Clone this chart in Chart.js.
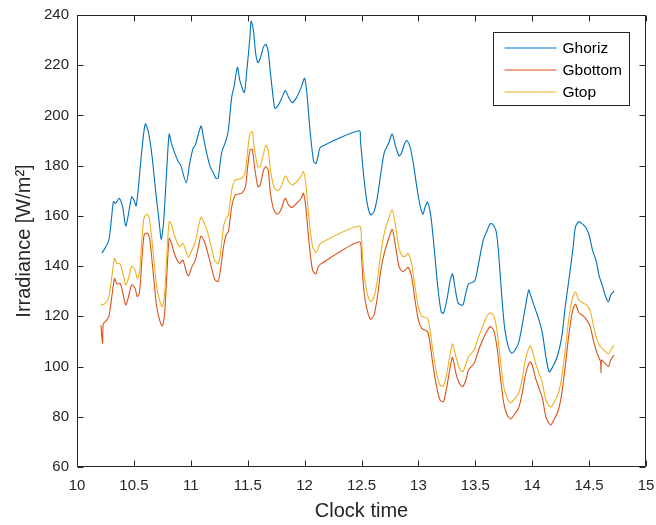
<!DOCTYPE html>
<html>
<head>
<meta charset="utf-8">
<script src="https://cdn.jsdelivr.net/npm/chart.js@4.4.0/dist/chart.umd.min.js"></script>
<style>
  body { margin: 0; background: #fff; }
  canvas { display: block; }
</style>
</head>
<body>
<canvas id="irr-chart" width="656" height="525"></canvas>
<script>
// Irradiance data (clock time in hours, W/m2)
const tHoriz = [10.22,10.28,10.32,10.34,10.37,10.40,10.43,10.48,10.50,10.52,10.54,10.57,10.60,10.63,10.66,10.69,10.72,10.74,10.76,10.79,10.81,10.83,10.86,10.89,10.91,10.96,10.99,11.02,11.04,11.09,11.11,11.14,11.17,11.20,11.22,11.24,11.27,11.31,11.33,11.36,11.38,11.41,11.43,11.47,11.49,11.52,11.53,11.55,11.57,11.59,11.61,11.64,11.66,11.68,11.70,11.73,11.74,11.77,11.80,11.83,11.86,11.89,11.93,11.97,12.00,12.02,12.05,12.08,12.10,12.12,12.14,12.48,12.49,12.52,12.55,12.58,12.61,12.64,12.67,12.70,12.74,12.77,12.80,12.83,12.85,12.88,12.90,12.93,12.96,12.99,13.02,13.04,13.06,13.08,13.11,13.14,13.17,13.20,13.22,13.25,13.28,13.30,13.32,13.35,13.39,13.41,13.44,13.49,13.51,13.54,13.57,13.60,13.63,13.65,13.68,13.70,13.72,13.74,13.76,13.79,13.82,13.85,13.88,13.91,13.94,13.97,13.99,14.03,14.06,14.09,14.12,14.15,14.18,14.22,14.26,14.29,14.33,14.36,14.38,14.41,14.44,14.47,14.50,14.53,14.56,14.59,14.62,14.64,14.67,14.69,14.72];
const gHoriz = [145.1,150.4,165.7,165,167,163.7,156,167.6,166.3,164,171.6,186.2,196.6,192.9,183.6,170.3,158.4,150.7,157,179.6,192.6,188.9,184.9,181.6,180.3,173.2,180.9,186.9,188.2,195.8,191.5,184.9,179.6,177,175,175,184.9,190.2,194.2,207.5,211.5,219.2,214.1,209.1,216.8,231.4,237.6,234,224.7,221,222.7,227.4,228.3,225.4,216.8,204.8,202.8,204.2,207,209.9,207.2,205.1,207.2,211.2,214.8,208.8,192.9,181.6,180.9,184.2,187.3,193.9,190.2,175.6,165,160.4,161.7,167.6,177,185.2,189.1,192.6,187.6,183.9,184.9,188.9,190,186.9,179.6,170.3,163,160.7,163.7,165.5,159.7,146.4,131.8,121.8,121.2,126.5,134.5,136.9,131.8,125.2,124.5,127.8,132.9,133.8,136.5,143.7,150.4,153.7,156.8,156.8,154.4,147.7,135.8,123.8,114.6,107.9,105.3,106.6,109.3,115.9,123.8,130.5,127.8,122.5,118.5,113.2,103.9,97.9,99.9,103.9,111.9,123.8,137.1,147.7,155.6,157.7,156.8,155.5,152.4,146.4,142.4,135.8,131.8,128.5,125.8,128.5,130.1];

const tBottom = [10.21,10.225,10.23,10.25,10.28,10.31,10.33,10.35,10.38,10.41,10.43,10.46,10.48,10.51,10.53,10.55,10.57,10.59,10.62,10.64,10.67,10.70,10.73,10.75,10.77,10.79,10.81,10.83,10.86,10.90,10.93,10.96,10.98,11.01,11.04,11.07,11.09,11.12,11.15,11.18,11.21,11.24,11.26,11.29,11.31,11.33,11.36,11.39,11.42,11.45,11.48,11.50,11.52,11.54,11.56,11.59,11.61,11.64,11.66,11.68,11.70,11.73,11.76,11.79,11.83,11.86,11.89,11.93,11.97,11.99,12.01,12.04,12.07,12.10,12.12,12.14,12.48,12.50,12.52,12.55,12.58,12.61,12.64,12.67,12.70,12.73,12.77,12.80,12.83,12.86,12.89,12.91,12.94,12.97,13.00,13.03,13.08,13.10,13.13,13.16,13.19,13.22,13.25,13.28,13.30,13.33,13.36,13.39,13.42,13.44,13.49,13.51,13.54,13.57,13.60,13.63,13.66,13.69,13.72,13.75,13.78,13.81,13.85,13.88,13.91,13.94,13.98,14.00,14.03,14.06,14.09,14.12,14.16,14.19,14.23,14.26,14.29,14.32,14.35,14.38,14.41,14.45,14.48,14.51,14.54,14.57,14.60,14.605,14.61,14.64,14.67,14.69,14.72];
const gBottom = [116.5,109.3,117,117.9,119.9,129.2,135.1,132.9,133.1,127.8,124.5,129.2,132.5,131.2,127.8,129.8,142.4,152.4,153.1,150.4,137.1,123.8,117.9,116.2,121.2,137.1,151.1,149.1,144.4,141.1,142.4,137.8,136.1,139.8,142.4,148.4,152,149.7,145.1,139.8,134.7,133.9,138.4,148.4,152.4,153.7,163.7,168.3,168.7,169.2,171.6,179.6,186.2,186.5,179.6,171.6,172.3,178.3,179.6,178.3,169,162.3,160.7,162.2,167,164.3,163.4,165,167,169,163.7,149.1,138.4,136.9,139.8,140.8,149.7,143.7,130.5,122.5,118.8,120.5,127.8,138.4,145.1,149.7,154.6,147.7,139.8,137.8,138.7,139.5,135.8,126.5,118.5,115.2,113.9,109.9,99.9,92,86.7,86,92,99.9,103.7,97.3,93.3,92,95,98.6,101.3,103.9,107.9,111.2,113.9,115.9,114.6,107.9,96,85.4,80.7,79.1,81.3,83.4,88.7,96.6,101.9,100.6,95.3,91.3,87.4,80,76.7,78.7,82.7,89.3,100,111.9,121.2,124.9,121.4,120.1,118.5,115.9,109.9,105.3,102,97.6,102.6,101.3,100,102.6,104.6];

const tTop = [10.21,10.25,10.28,10.31,10.33,10.35,10.38,10.41,10.43,10.46,10.48,10.51,10.53,10.55,10.57,10.59,10.62,10.64,10.67,10.70,10.73,10.75,10.77,10.79,10.81,10.83,10.86,10.90,10.93,10.96,10.98,11.01,11.04,11.07,11.09,11.12,11.15,11.18,11.21,11.24,11.26,11.29,11.31,11.33,11.36,11.39,11.42,11.45,11.48,11.50,11.52,11.54,11.56,11.59,11.61,11.64,11.66,11.68,11.70,11.73,11.76,11.79,11.83,11.86,11.89,11.93,11.97,11.99,12.01,12.04,12.07,12.10,12.12,12.14,12.48,12.50,12.52,12.55,12.58,12.61,12.64,12.67,12.70,12.73,12.77,12.80,12.83,12.86,12.89,12.91,12.94,12.97,13.00,13.03,13.08,13.10,13.13,13.16,13.19,13.22,13.25,13.28,13.30,13.33,13.36,13.39,13.42,13.44,13.49,13.51,13.54,13.57,13.60,13.63,13.66,13.69,13.72,13.75,13.78,13.81,13.85,13.88,13.91,13.94,13.98,14.00,14.03,14.06,14.09,14.12,14.16,14.19,14.23,14.26,14.29,14.32,14.35,14.38,14.41,14.45,14.48,14.51,14.54,14.57,14.60,14.63,14.67,14.69,14.72];
const gTop = [124.5,125.2,127.8,137.1,143.1,141.1,140.8,135.8,132.5,136.5,140,138.4,135.1,137.8,150.4,159.4,160.7,157.7,145.1,131.8,125.8,123.8,129.2,145.1,157.7,156.4,151.7,147.7,149.1,145.7,143.5,146.4,149.7,156.3,159.4,157,153.1,147.7,142.2,141.1,145.1,156.3,159,160.4,170.3,174.3,174.6,175,177.6,186.2,192.9,193.5,186.2,179.6,179.6,184.9,188.2,186.2,178.3,171.6,170,171.3,175.9,173.6,172.3,173.6,175.9,177.6,173,158.4,147.7,145.3,147.1,149.1,156,150.4,137.1,129.2,125.8,127.8,134.5,145.1,153.1,157.7,162.3,155.7,147.1,144,144,145.1,141.1,131.8,123.8,120.1,119.2,115.2,105.3,97.3,92.7,92.3,97.3,105.3,109,103.9,99.3,98,101.3,103.9,106.6,109.3,113.2,116.5,119.8,121.4,120.5,114.5,102.6,92,87.4,85.6,87.4,89.3,94.6,102.6,108.3,106.6,101.3,97.3,93.3,86.7,83.8,85.6,89.3,96,106.6,118.5,126.5,129.8,126.5,125.2,124.5,122.2,115.9,110.6,107.9,106.6,105,106.6,108.6];

const seriesNames = ['Ghoriz', 'Gbottom', 'Gtop'];
const seriesColors = ['#0072BD', '#D95319', '#EDB120'];

const xTicks = { min: 10, max: 15, step: 0.5 };
const yTicks = { min: 60, max: 240, step: 20 };

const axisColor = '#262626';
const fontFamily = '"Liberation Sans", Arial, Helvetica, sans-serif';

function toPoints(t, g) {
  return t.map((x, i) => ({ x: x, y: g[i] }));
}

// MATLAB-like box with inward ticks on all four sides
const boxAxes = {
  id: 'boxAxes',
  afterDatasetsDraw(chart) {
    const { ctx, chartArea: a, scales } = chart;
    const L = Math.round(a.left) + 0.5, R = Math.round(a.right) - 0.5;
    const T = Math.round(a.top) + 0.5, B = Math.round(a.bottom) - 0.5;
    const len = 6;
    ctx.save();
    ctx.strokeStyle = axisColor;
    ctx.lineWidth = 1;
    ctx.beginPath();
    ctx.rect(L, T, R - L, B - T);
    scales.x.ticks.forEach(tk => {
      const px = Math.round(scales.x.getPixelForValue(tk.value)) + 0.5;
      ctx.moveTo(px, B); ctx.lineTo(px, B - len);
      ctx.moveTo(px, T); ctx.lineTo(px, T + len);
    });
    scales.y.ticks.forEach(tk => {
      const py = Math.round(scales.y.getPixelForValue(tk.value)) + 0.5;
      ctx.moveTo(L, py); ctx.lineTo(L + len, py);
      ctx.moveTo(R, py); ctx.lineTo(R - len, py);
    });
    ctx.stroke();
    ctx.restore();
  }
};

// legend box in the top right corner of the axes
const boxLegend = {
  id: 'boxLegend',
  afterDraw(chart) {
    const { ctx, chartArea: a } = chart;
    const x0 = Math.round(a.right) - 152.5, y0 = Math.round(a.top) + 17.5, w = 136, h = 73;
    ctx.save();
    ctx.fillStyle = '#fff';
    ctx.fillRect(x0, y0, w, h);
    ctx.strokeStyle = axisColor;
    ctx.lineWidth = 1;
    ctx.strokeRect(x0, y0, w, h);
    ctx.font = '15.5px ' + fontFamily;
    ctx.textBaseline = 'middle';
    chart.data.datasets.forEach((ds, i) => {
      const y = y0 + 15.5 + i * 22;
      ctx.strokeStyle = ds.borderColor;
      ctx.lineWidth = 1.2;
      ctx.beginPath();
      ctx.moveTo(x0 + 11, y);
      ctx.lineTo(x0 + 63, y);
      ctx.stroke();
      ctx.fillStyle = '#000';
      ctx.fillText(ds.label, x0 + 69, y + 1);
    });
    ctx.restore();
  }
};

const ctx_irr = document.getElementById('irr-chart').getContext('2d');

const irr_chart = new Chart(ctx_irr, {
  type: 'line',
  data: {
    datasets: [
      { label: seriesNames[0], data: toPoints(tHoriz, gHoriz), borderColor: seriesColors[0], order: 2 },
      { label: seriesNames[1], data: toPoints(tBottom, gBottom), borderColor: seriesColors[1], order: 1 },
      { label: seriesNames[2], data: toPoints(tTop, gTop), borderColor: seriesColors[2], order: 0 }
    ].map(ds => Object.assign(ds, {
      borderWidth: 1.1,
      pointRadius: 0,
      fill: false,
      tension: 0.25
    }))
  },
  options: {
    responsive: false,
    animation: false,
    layout: { padding: { top: 15, right: 10, left: 0, bottom: 0 } },
    plugins: {
      legend: { display: false },
      tooltip: { enabled: false }
    },
    scales: {
      x: {
        type: 'linear',
        min: xTicks.min,
        max: xTicks.max,
        grid: { display: false, drawTicks: false },
        border: { display: false },
        ticks: {
          stepSize: xTicks.step,
          color: axisColor,
          padding: 10,
          maxRotation: 0,
          font: { family: fontFamily, size: 15 },
          callback: v => String(Math.round(v * 10) / 10)
        },
        title: {
          display: true,
          text: 'Clock time',
          color: axisColor,
          padding: { top: 0, bottom: 2 },
          font: { family: fontFamily, size: 20 }
        },
        afterFit(scale) {
          scale.height = 58;
          scale.paddingLeft = 0;
          scale.paddingRight = 0;
        }
      },
      y: {
        type: 'linear',
        min: yTicks.min,
        max: yTicks.max,
        grid: { display: false, drawTicks: false },
        border: { display: false },
        ticks: {
          stepSize: yTicks.step,
          color: axisColor,
          padding: 8,
          font: { family: fontFamily, size: 15 }
        },
        title: {
          display: true,
          text: 'Irradiance [W/m²]',
          color: axisColor,
          padding: { top: 12, bottom: 0 },
          font: { family: fontFamily, size: 20 }
        },
        afterFit(scale) {
          scale.width = 77;
          scale.paddingTop = 0;
          scale.paddingBottom = 0;
        }
      }
    }
  },
  plugins: [boxAxes, boxLegend]
});
</script>
</body>
</html>
